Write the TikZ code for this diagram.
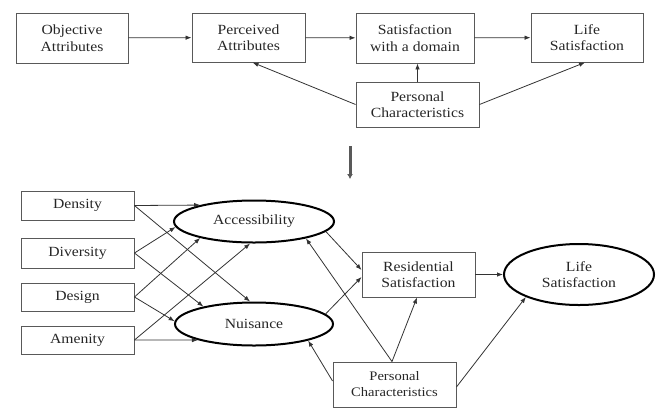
\documentclass[tikz,border=0pt]{standalone}
\usepackage{fontspec}
\setmainfont[FakeStretch=1.12]{Liberation Serif}
\usetikzlibrary{arrows.meta,shapes.geometric}
\begin{document}
\begin{tikzpicture}[x=1bp,y=-1bp,
  every node/.style={font=\fontsize{14bp}{16.5bp}\selectfont, text=black!85, align=center, inner sep=0pt},
  rbox/.style={draw=black!65, line width=0.9bp, rectangle},
  latent/.style={draw=black, line width=2bp, ellipse},
  link/.style={draw=black!80, line width=0.8bp, -{Latex[length=6bp,width=4.5bp]}},
  downarrow/.style={draw=black!65, line width=3bp, -{Latex[length=5bp,width=6bp]}}]
\useasboundingbox (0,0) rectangle (656,409);

% upper model
\node[rbox, minimum width=112bp, minimum height=50bp] (obj) at (72,38) {Objective\\Attributes};
\node[rbox, minimum width=113bp, minimum height=49bp] (perc) at (248.5,37.5) {Perceived\\Attributes};
\node[rbox, minimum width=118bp, minimum height=50bp] (sat) at (415,38) {Satisfaction\\with a domain};
\node[rbox, minimum width=112bp, minimum height=49bp] (lifeT) at (587,37.5) {Life\\Satisfaction};
\node[rbox, minimum width=123bp, minimum height=45bp] (pcT) at (417.5,104.5) {Personal\\Characteristics};

\draw[link] (obj) -- (perc);
\draw[link] (perc) -- (sat);
\draw[link] (sat) -- (lifeT);
\draw[link] (pcT.west) -- ([xshift=4bp]perc.south);
\draw[link] (pcT.north) -- (pcT.north |- sat.south);
\draw[link] (pcT.east) -- ([xshift=-2bp]lifeT.south);

% transition arrow
\coordinate (d1) at (350,146);
\coordinate (d2) at (350,179);
\draw[downarrow] (d1) -- (d2);

% lower model
\node[rbox, minimum width=113bp, minimum height=29bp] (den) at (77.5,205.5) {Density};
\node[rbox, minimum width=113bp, minimum height=30bp] (div) at (77.5,253) {Diversity};
\node[rbox, minimum width=113bp, minimum height=28bp] (des) at (77.5,297) {Design};
\node[rbox, minimum width=113bp, minimum height=28bp] (ame) at (77.5,340) {Amenity};
\node[latent, minimum width=160bp, minimum height=42bp] (acc) at (254,221.5) {Accessibility};
\node[latent, minimum width=158bp, minimum height=43bp] (nui) at (254,324) {Nuisance};
\node[rbox, minimum width=113bp, minimum height=45bp] (res) at (418.5,274.5) {Residential\\Satisfaction};
\node[latent, minimum width=150bp, minimum height=61bp] (lifeB) at (579,274.5) {Life\\Satisfaction};
\node[rbox, minimum width=123bp, minimum height=45bp, font=\fontsize{13bp}{16bp}\selectfont] (pcB) at (394.5,384.5) {Personal\\Characteristics};

\draw[link] (den.east) -- (acc.163.5);
\draw[link] (den.east) -- (nui.100);
\draw[link] (div.east) -- (acc.184);
\draw[link] (div.east) -- (nui.161);
\draw[link] (des.east) -- (acc.197);
\draw[link] (des.east) -- (nui.178);
\draw[link] (ame.east) -- (acc.260);
\draw[link] (ame.east) -- (nui.196.2);

\draw[link] (acc.352) -- ([yshift=4.5bp]res.west);
\draw[link] (nui.8) -- ([yshift=-2.5bp]res.west);
\draw[link] (res.east) -- (lifeB.west);

\draw[link] ([xshift=-2.5bp]pcB.north) -- (acc.342);
\draw[link] ([xshift=-2.5bp]pcB.north) -- ([xshift=-1.5bp]res.south);
\draw[link] ([yshift=3.5bp]pcB.west) -- (nui.343);
\draw[link] ([yshift=-2.5bp]pcB.east) -- (lifeB.203.5);
\end{tikzpicture}
\end{document}
